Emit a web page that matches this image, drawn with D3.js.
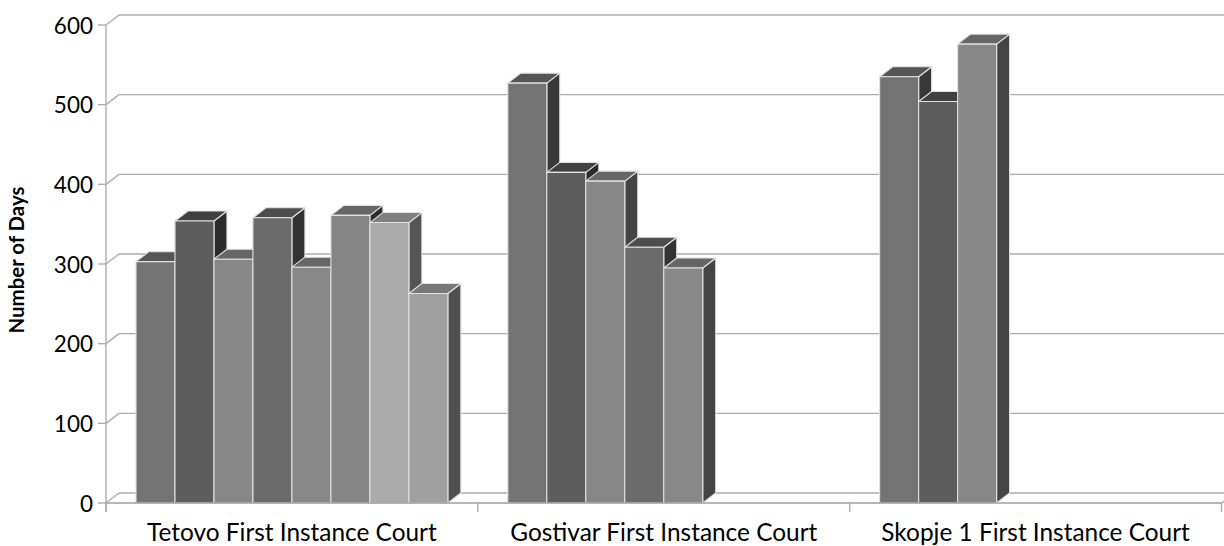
<!DOCTYPE html>
<html><head><meta charset="utf-8">
<script src="https://cdn.jsdelivr.net/npm/d3@7"></script>
<style>html,body{margin:0;padding:0;background:#fff}svg{display:block}text{font-family:Lato,"Open Sans",sans-serif;fill:#000}</style>
</head><body><svg id="c" width="1224" height="546"></svg>
<script>
const categories = ["Tetovo First Instance Court","Gostivar First Instance Court","Skopje 1 First Instance Court"];
const yTicks = [0,100,200,300,400,500,600];
const yTitle = "Number of Days";
const s1 = [303,527,535];
const s2 = [354,415,504];
const s3 = [306,404,576];
const s4 = [358,321,null];
const s5 = [296,295,null];
const s6 = [361,null,null];
const s7 = [352,null,null];
const s8 = [263,null,null];
const series = [s1,s2,s3,s4,s5,s6,s7,s8];
const frontColors = ["#737373","#5d5d5d","#878787","#6b6b6b","#888888","#858585","#ababab","#a0a0a0"];
const topColors   = ["#555555","#404040","#666666","#4d4d4d","#666666","#666666","#808080","#787878"];
const sideColors  = ["#383838","#2c2c2c","#444444","#333333","#444444","#2e2e2e","#555555","#505050"];

const svg = d3.select("#c");
const dx = 13, dy = -10;
const gridColor = "#adadad";
const x = d3.scaleBand().domain(categories).range([106,1221.5]);
const y = d3.scaleLinear().domain([0,600]).range([503,25]);
const slotW = x.bandwidth()*39/372, slotPad = x.bandwidth()*30/372;

const line = (x1,y1,x2,y2,c=gridColor,w=1.4)=>svg.append("line").attr("x1",x1).attr("y1",y1).attr("x2",x2).attr("y2",y2).attr("stroke",c).attr("stroke-width",w);

yTicks.forEach(t=>{
  const p=y(t);
  line(106,p,106+dx,p+dy);
  line(106+dx,p+dy,1224,p+dy);
  line(98,p,106,p);
  svg.append("text").attr("x",93).attr("y",p).attr("text-anchor","end").attr("dominant-baseline","central").attr("font-size",22.5).text(t);
});
line(106,25,106,512);
x.domain().forEach(c=>line(x(c),503,x(c),512));
line(1221.5,503,1221.5,512);
line(1221.5,503,1224,501);

categories.forEach((c,ci)=>{
  series.forEach((s,si)=>{
    const v=s[ci];
    if(v==null) return;
    const x0=x(c)+slotPad+si*slotW, x1=x0+slotW, yt=y(v), yb=y(0);
    const g=svg.append("g").attr("stroke","#e2e2e2").attr("stroke-width",1.1).attr("stroke-linejoin","round");
    g.append("path").attr("fill",sideColors[si])
      .attr("d",d3.line()([[x1,yt],[x1+dx,yt+dy],[x1+dx,yb+dy],[x1,yb]])+"Z");
    g.append("path").attr("fill",topColors[si])
      .attr("d",d3.line()([[x0,yt],[x0+dx,yt+dy],[x1+dx,yt+dy],[x1,yt]])+"Z");
    g.append("rect").attr("fill",frontColors[si]).attr("x",x0).attr("y",yt).attr("width",slotW).attr("height",yb-yt);
  });
});
line(106,503,1221.5,503,"#a0a0a0",1.3);

categories.forEach(c=>{
  svg.append("text").attr("x",x(c)+x.bandwidth()/2).attr("y",541).attr("text-anchor","middle").attr("font-size",24.4).text(c);
});
svg.append("text").attr("transform","translate(24,260) rotate(-90)").attr("text-anchor","middle").attr("font-size",20.4).attr("font-weight","700").text(yTitle);
</script></body></html>
